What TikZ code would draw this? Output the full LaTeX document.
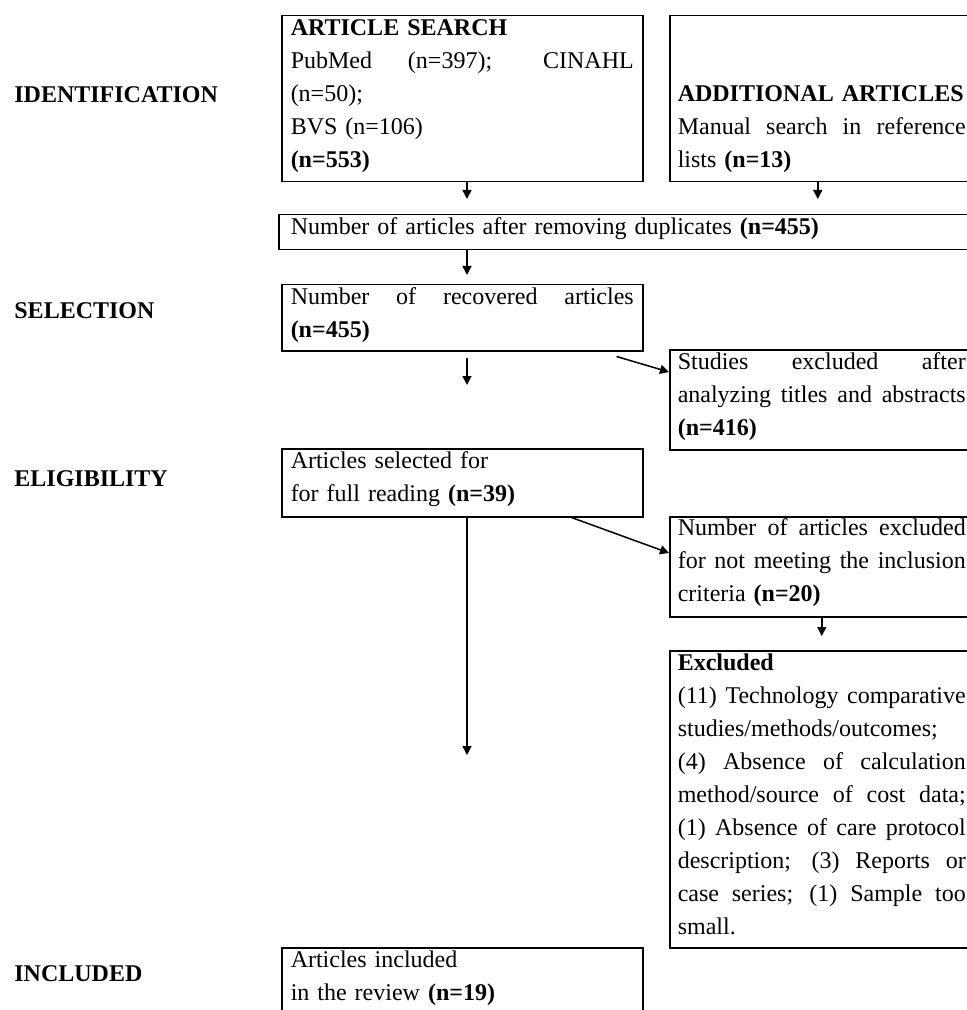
\documentclass[tikz,border=0pt]{standalone}
\usepackage{fontspec}
\setmainfont{Liberation Serif}
\usetikzlibrary{arrows.meta,positioning}

\newcommand{\boxfont}{\fontsize{12pt}{16.5pt}\selectfont}
\newcommand{\ljust}[1]{\leavevmode\hbox to 171.5pt{\spaceskip=0pt \xspaceskip=0pt #1}}
\newcommand{\rjust}[1]{\leavevmode\hbox to 144pt{\spaceskip=0pt \xspaceskip=0pt #1}}

\begin{document}
\begin{tikzpicture}[
		x=0.5pt, y=-0.5pt,
		font=\boxfont,
		stage/.style={anchor=west, font=\boxfont\bfseries, inner sep=0pt},
		stepbox/.style={draw, line width=0.75pt, anchor=north west, align=left,
			inner xsep=4.5pt, inner ysep=0pt, text height=10pt},
		leftbox/.style={stepbox, text width=171.5pt},
		rightbox/.style={stepbox, inner xsep=4pt, text width=144pt},
		flow/.style={-{Triangle[length=4.5pt,width=4.5pt]}, line width=0.75pt}]
		% Frame
		\useasboundingbox (0,0) rectangle (967,1010);
		\clip (0,0) rectangle (967,1010);
		
		% Stages
		\node[stage] (identification) at (14,95) {IDENTIFICATION};
		\node[stage] (selection) at (14,311) {SELECTION};
		\node[stage] (eligibility) at (14,479) {ELIGIBILITY};
		\node[stage] (inclusion) at (14,974) {INCLUDED};
		
		% Boxes
		\node[leftbox, text depth=73pt] (search) at (281,15) {\textbf{ARTICLE SEARCH}\\
			\ljust{PubMed (n=397); CINAHL}\\
			(n=50);\\
			BVS (n=106)\\
			\textbf{(n=553)}};
		\node[rightbox, text height=43pt, text depth=40pt] (extra) at (669,15) {\textbf{ADDITIONAL ARTICLES}\\
			\rjust{Manual search in reference}\\
			lists \textbf{(n=13)}};
		\node[stepbox, text width=345pt, inner xsep=6pt, text depth=7.5pt] (dup) at (278,214)
			{Number of articles after removing duplicates \textbf{(n=455)}};
		\node[leftbox, text depth=23pt] (recovered) at (281,284) {\ljust{Number of recovered articles}\\
			\textbf{(n=455)}};
		\node[rightbox, text depth=40pt] (studies) at (669,349) {\rjust{Studies excluded after}\\
			\rjust{analyzing titles and abstracts}\\
			\textbf{(n=416)}};
		\node[leftbox, text depth=24pt] (selected) at (281,448) {Articles selected for\\
			for full reading \textbf{(n=39)}};
		\node[rightbox, text height=9.5pt, text depth=40.5pt] (notmeet) at (669,516) {\rjust{Number of articles excluded}\\
			\rjust{for not meeting the inclusion}\\
			criteria \textbf{(n=20)}};
		\node[rightbox, text depth=138.5pt] (excluded) at (669,650) {\textbf{Excluded}\\
			\rjust{(11) Technology comparative}\\
			studies/methods/outcomes;\\
			\rjust{(4) Absence of calculation}\\
			\rjust{method/source of cost data;}\\
			\rjust{(1) Absence of care protocol}\\
			\rjust{description; (3) Reports or}\\
			\rjust{case series; (1) Sample too}\\
			small.};
		\node[leftbox, text depth=32pt] (included) at (281,947) {Articles included\\
			in the review \textbf{(n=19)}};
		
		% Arrows
		\coordinate (spine) at (467,0);
		\draw[flow, shorten >=7.5pt] (spine |- search.south) -- (spine |- dup.north);
		\draw[flow, shorten >=7.5pt] ([xshift=-2pt]extra.south) -- ([xshift=-2pt]extra.south |- dup.north);
		\draw[flow, shorten >=4.5pt] (spine |- dup.south) -- (spine |- recovered.north);
		\draw[flow, shorten <=3pt, shorten >=31.5pt] (spine |- recovered.south) -- (spine |- selected.north);
		\draw[flow] ([shift={(-13.5pt,-2.5pt)}]recovered.south east) -- ([yshift=-11.5pt]studies.north west);
		\draw[flow, shorten >=96pt] (spine |- selected.south) -- (spine |- included.north);
		\draw[flow] ([xshift=-36pt]selected.south east) -- ([yshift=-18.5pt]notmeet.north west);
		\draw[flow, shorten >=7pt] (notmeet.south) -- (notmeet.south |- excluded.north);
		
\end{tikzpicture}
\end{document}
